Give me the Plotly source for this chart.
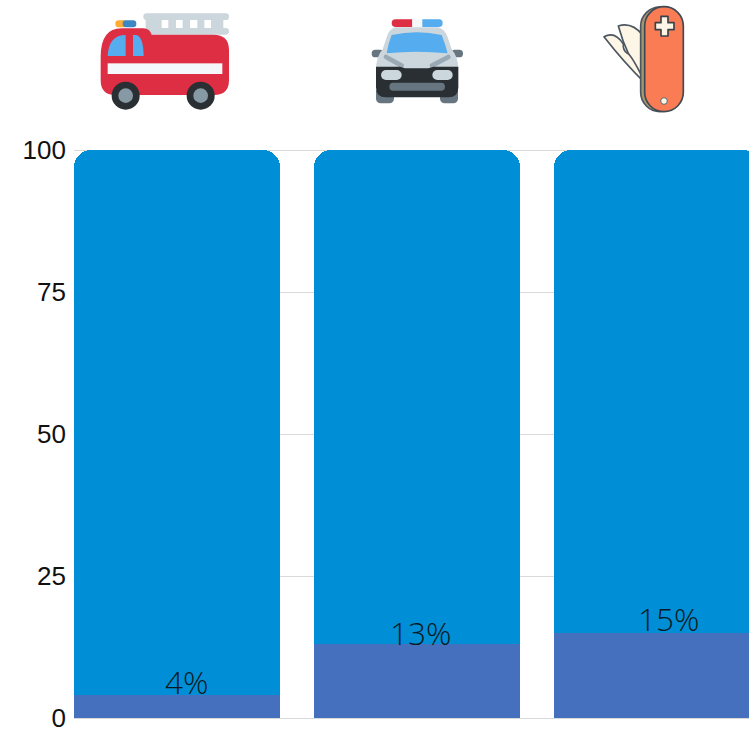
import base64
import plotly.graph_objects as go

# Chart data
categories = ["Fire engine", "Police car", "Pocket knife"]
share = [4, 13, 15]
remainder = [96, 87, 85]
labels = ["4%", "13%", "15%"]
label_nudge_x = [9, 3, 11]
label_nudge_y = [-10, -12, -9]
y_ticks = [0, 25, 50, 75, 100]

W, H = 749, 729
LEFT = 74
AXIS_TOP, AXIS_BOTTOM = 150, 718  # pixel rows of y=100 and y=0
PAD = 2                           # spare pixels so the end gridlines are kept
TOP = AXIS_TOP - PAD
BOTTOM = H - AXIS_BOTTOM - PAD
PLOT_W = W - LEFT
PLOT_H = H - TOP - BOTTOM
Y_PAD = PAD * 100 / (AXIS_BOTTOM - AXIS_TOP)

TRUCK = """
<rect x="190" y="40" width="257" height="20" rx="10" fill="#ccd6dd"/>
<rect x="190" y="84" width="257" height="20" rx="10" fill="#ccd6dd"/>
<path d="M197 50H245V94H197ZM265 50H288V94H265ZM308 50H330V94H308ZM352 50H373V94H352ZM393 50H430V94H393Z" fill="#ccd6dd"/>
<rect x="106" y="61" width="36" height="21" rx="10" fill="#ffac33"/>
<rect x="128" y="61" width="41" height="21" rx="10" fill="#3b88c3"/>
<path d="M62 170Q62 85 125 85H190Q208 85 215 104H400Q447 104 447 150V240Q447 285 402 285H105Q62 285 62 240Z" fill="#dd2e44"/>
<path d="M83 168Q86 105 137 105V168ZM159 105H168Q190 108 191 168H159Z" fill="#55acee"/>
<rect x="83" y="190" width="344" height="32" fill="#f5f8fa"/>
<circle cx="137" cy="287" r="42" fill="#292f33"/><circle cx="137" cy="287" r="22" fill="#8899a6"/>
<circle cx="362" cy="287" r="42" fill="#292f33"/><circle cx="362" cy="287" r="22" fill="#8899a6"/>
"""

POLICE = """
<rect x="78" y="262" width="54" height="48" rx="14" fill="#66757f"/>
<rect x="270" y="262" width="54" height="48" rx="14" fill="#66757f"/>
<rect x="65" y="149" width="36" height="23" rx="11" fill="#66757f"/>
<rect x="303" y="149" width="36" height="23" rx="11" fill="#66757f"/>
<path d="M135 82H265Q285 88 293 112L305 148Q325 170 325 210H78Q78 170 98 148L110 112Q117 88 135 82Z" fill="#ccd6dd"/>
<path d="M125 105Q200 88 275 105Q285 130 293 160Q200 150 110 160Q115 130 125 105Z" fill="#55acee"/>
<path d="M108 171L155 197M295 171L246 197" stroke="#99aab5" stroke-width="14" stroke-linecap="round"/>
<path d="M78 200H150L165 205H235L250 200H325V262Q325 292 295 292H108Q78 292 78 262Z" fill="#292f33"/>
<rect x="93" y="210" width="62" height="30" rx="15" fill="#ccd6dd"/>
<rect x="247" y="210" width="61" height="30" rx="15" fill="#ccd6dd"/>
<rect x="118" y="248" width="167" height="24" rx="12" fill="#66757f"/>
<path d="M137 58H187V81H137Q125 81 125 69Q125 58 137 58Z" fill="#dd2e44"/>
<rect x="187" y="58" width="30" height="23" fill="#f5f8fa"/>
<path d="M217 58H267Q278 58 278 69Q278 81 267 81H217Z" fill="#55acee"/>
"""

KNIFE = """
<path d="M85 78Q125 65 158 105V248L166 250Q110 170 85 78Z" fill="#fdf5e6" stroke="#4b5660" stroke-width="5" stroke-linejoin="round"/>
<path d="M42 110Q75 92 100 132Q98 150 112 160Q125 165 166 250Q100 185 42 110Z" fill="#fdf5e6" stroke="#4b5660" stroke-width="5" stroke-linejoin="round"/>
<rect x="152" y="21" width="116" height="314" rx="58" fill="#a8966f" stroke="#4b5660" stroke-width="5"/>
<rect x="164" y="20" width="116" height="315" rx="58" fill="#f97c55" stroke="#3f4953" stroke-width="5"/>
<path d="M213 49H234V68H252V89H234V108H213V89H196V68H213Z" fill="#fdf5e6" stroke="#3a4249" stroke-width="5" stroke-linejoin="round"/>
<circle cx="222" cy="303" r="10" fill="#fdf5e6" stroke="#5b6770" stroke-width="3"/>
"""

# (markup, left, top, width, height) in page pixels
ICONS = [
    (TRUCK, 80, 0, 170, 130),
    (POLICE, 350, 0, 130, 120),
    (KNIFE, 590, 0, 110, 120),
]


def icon_image(markup, left, top, width, height):
    svg = (
        f'<svg xmlns="http://www.w3.org/2000/svg" width="{width * 3}" height="{height * 3}" '
        f'viewBox="0 0 {width * 3} {height * 3}">{markup}</svg>'
    )
    uri = "data:image/svg+xml;base64," + base64.b64encode(svg.encode()).decode()
    return dict(
        source=uri,
        xref="paper",
        yref="paper",
        x=(left - LEFT) / PLOT_W,
        y=(H - BOTTOM - top) / PLOT_H,
        sizex=width / PLOT_W,
        sizey=height / PLOT_H,
        xanchor="left",
        yanchor="top",
        sizing="stretch",
        layer="above",
    )


x_pos = list(range(len(categories)))

fig = go.Figure()
fig.add_bar(x=x_pos, y=share, name="Share", marker=dict(color="#4570be", line_width=0), hoverinfo="skip")
fig.add_bar(x=x_pos, y=remainder, name="Remainder", marker=dict(color="#008fd6", line_width=0), hoverinfo="skip")

annotations = [
    dict(
        x=i,
        y=v,
        text=t,
        xref="x",
        yref="y",
        xanchor="center",
        yanchor="bottom",
        xshift=nx,
        yshift=ny,
        showarrow=False,
        font=dict(family="Open Sans", size=31.5, color="#0a1a24", weight=300),
    )
    for i, v, t, nx, ny in zip(x_pos, share, labels, label_nudge_x, label_nudge_y)
]

fig.update_layout(
    width=W,
    height=H,
    autosize=False,
    margin=dict(l=LEFT, r=0, t=TOP, b=BOTTOM, pad=0, autoexpand=False),
    paper_bgcolor="white",
    plot_bgcolor="white",
    barmode="stack",
    bargap=0.1417,
    barcornerradius=17,
    showlegend=False,
    annotations=annotations,
    images=[icon_image(*ic) for ic in ICONS],
    xaxis=dict(
        range=[-0.4292, 2.3833],
        automargin=False,
        showticklabels=False,
        showgrid=False,
        zeroline=False,
        ticks="",
        fixedrange=True,
    ),
    yaxis=dict(
        range=[-Y_PAD, 100 + Y_PAD],
        automargin=False,
        tickvals=y_ticks,
        gridcolor="#d9d9d9",
        gridwidth=1,
        zeroline=True,
        zerolinecolor="#d9d9d9",
        zerolinewidth=1,
        ticks="",
        ticklabelstandoff=7,
        ticklabeloverflow="allow",
        tickfont=dict(family="Liberation Sans", size=26, color="#111111"),
        fixedrange=True,
    ),
)

fig.write_html("out.html", config={"displayModeBar": False})
